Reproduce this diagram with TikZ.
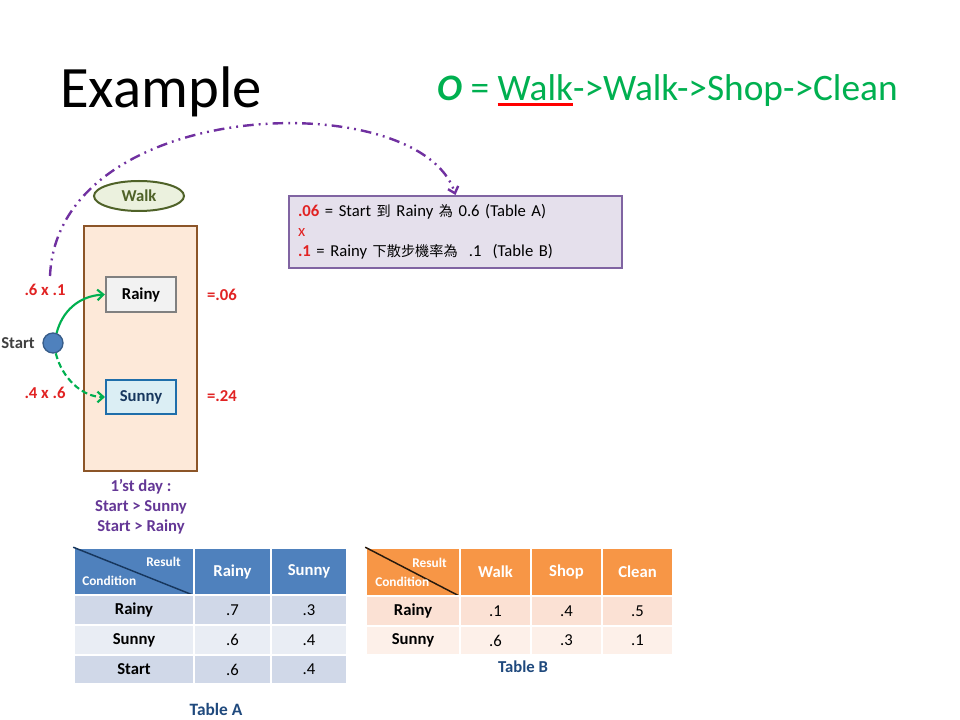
\documentclass[tikz,border=0pt]{standalone}
\usepackage{fontspec}
\setmainfont{Carlito}
\newfontfamily\cjk{Noto Sans CJK TC}[Scale=0.85]
\usetikzlibrary{arrows.meta,shapes.geometric}
\definecolor{tgreen}{RGB}{0,176,80}
\definecolor{tred}{RGB}{225,35,35}
\definecolor{brownB}{RGB}{140,85,40}
\definecolor{peach}{RGB}{253,233,217}
\definecolor{oliveB}{RGB}{79,98,40}
\definecolor{oliveF}{RGB}{235,241,222}
\definecolor{rainyF}{RGB}{242,242,242}
\definecolor{rainyB}{RGB}{128,128,128}
\definecolor{sunnyF}{RGB}{219,238,244}
\definecolor{sunnyB}{RGB}{31,110,170}
\definecolor{sunnyT}{RGB}{23,55,94}
\definecolor{startF}{RGB}{79,129,189}
\definecolor{startB}{RGB}{56,93,138}
\definecolor{pboxF}{RGB}{229,224,236}
\definecolor{pboxB}{RGB}{128,100,162}
\definecolor{parcC}{RGB}{112,48,160}
\definecolor{dayC}{RGB}{100,55,150}
\definecolor{headA}{RGB}{79,129,189}
\definecolor{rowA1}{RGB}{208,216,232}
\definecolor{rowA2}{RGB}{233,237,244}
\definecolor{headB}{RGB}{247,150,70}
\definecolor{rowB1}{RGB}{251,225,212}
\definecolor{rowB2}{RGB}{253,240,233}
\definecolor{tlabC}{RGB}{31,73,125}
\definecolor{grayT}{RGB}{64,64,64}
\newcommand\fsz[1]{\fontsize{#1pt}{1.2\dimexpr #1pt\relax}\selectfont}
\newcommand\redul[1]{\begingroup\setbox0\hbox{#1}\rlap{\color{red}\rule[-3.6pt]{\wd0}{2.3pt}}\box0\endgroup}
\begin{document}
\begin{tikzpicture}[x=0.75pt,y=-0.75pt,
  redlbl/.style={inner sep=0, text=tred, font=\bfseries\fsz{12.5}},
  garrow/.style={draw=tgreen, line width=1.6pt, -{Straight Barb[length=4.5pt,width=8pt]}},
  parc/.style={draw=parcC, line width=1.8pt, dash pattern=on 8pt off 3.8pt on 1.4pt off 3.8pt on 1.4pt off 3.8pt, -{Straight Barb[length=4.5pt,width=8pt]}},
  tcell/.style={draw=white, line width=1.2pt, inner sep=0},
  hcellA/.style={tcell, fill=headA, text=white, font=\bfseries\fsz{12.5}},
  hcellB/.style={tcell, fill=headB, text=white, font=\bfseries\fsz{12.5}},
  lblcell/.style={tcell, font=\bfseries\fsz{12.5}},
  valcell/.style={tcell, font=\fsz{12.5}},
  smallhead/.style={inner sep=0, text=white, font=\bfseries\fsz{10}},
  tlabel/.style={inner sep=0, text=tlabC, font=\bfseries\fsz{12.5}}
]
\useasboundingbox (0,0) rectangle (960,720);
\fill[white] (0,0) rectangle (960,720);

% titles
\node[anchor=base west, inner sep=0, font=\fsz{44}] (title) at (60,108) {Example};
\node[anchor=base west, inner sep=0, font=\fsz{28}, text=tgreen] (obs) at (437,101)
  {\textbf{\textit{O}} = \redul{Walk}->Walk->Shop->Clean};

% first day column
\node[draw=brownB, fill=peach, line width=1.8pt, minimum width=84.75pt, minimum height=183.75pt] (day1) at (140.5,348.5) {};
\node[ellipse, draw=oliveB, fill=oliveF, line width=1.5pt, minimum width=67.5pt, minimum height=22.5pt, inner sep=0, text=oliveB, font=\bfseries\fsz{12.5}] (walk) at (139,196) {Walk};
\node[draw=rainyB, fill=rainyF, line width=1.5pt, minimum width=52.5pt, minimum height=26.25pt, inner sep=0, font=\bfseries\fsz{12.5}] (rainy) at (141,294.5) {Rainy};
\node[draw=sunnyB, fill=sunnyF, line width=1.5pt, minimum width=52.5pt, minimum height=25.5pt, inner sep=0, text=sunnyT, font=\bfseries\fsz{12.5}] (sunny) at (141,397) {Sunny};
\node[circle, draw=startB, fill=startF, line width=1pt, minimum size=15pt, inner sep=0] (start) at (53,343) {};
\node[inner sep=0, text=grayT, font=\bfseries\fsz{12.5}] (startlbl) at (18,343) {Start};

\draw[garrow] (start.70) .. controls (62,312) and (78,296) .. (rainy.west);
\draw[garrow, dash pattern=on 4.5pt off 2.5pt] (start.-75) .. controls (62,378) and (82,397) .. (sunny.west);

\node[redlbl] (l1) at (45,290) {.6 x .1};
\node[redlbl] (l2) at (45,393) {.4 x .6};
\node[redlbl] (p1) at (222,295) {=.06};
\node[redlbl] (p2) at (222,396) {=.24};

\node[inner sep=0, align=center, text=dayC, font=\bfseries\fontsize{12.5pt}{15pt}\selectfont] (daytxt) at (141,507)
  {1'st day :\\Start > Sunny\\Start > Rainy};

% explanation box
\node[draw=pboxB, fill=pboxF, line width=1.5pt, minimum height=54pt, text width=236.25pt, align=left, inner xsep=6.75pt, inner ysep=0pt, font=\fontsize{12.5pt}{15pt}\selectfont] (pbox) at (455.5,232)
  {{\color{tred}\bfseries .06} = Start {\cjk 到} Rainy {\cjk 為} 0.6 (Table A)\\
   {\color{tred}x}\\
   {\color{tred}\bfseries .1} = Rainy {\cjk 下散步機率為} \ .1 \ (Table B)};

\coordinate (arcfree) at (50,276);
\draw[parc] (arcfree) .. controls (58,95) and (420,85) .. (pbox.north);

% Table A
\node[hcellA, minimum width=90pt, minimum height=35.25pt] (a00) at (134,571.5) {};
\draw[draw=sunnyT, line width=1.1pt] (a00.north west) -- (a00.south east);
\node[smallhead, anchor=east] (aRes) at (181,562) {Result};
\node[smallhead, anchor=west] (aCon) at (82,581) {Condition};
\node[hcellA, minimum width=57.75pt, minimum height=35.25pt] (a01) at (232.5,571.5) {Rainy};
\node[hcellA, minimum width=57pt, minimum height=35.25pt] (a02) at (309,571.5) {Sunny};

\node[lblcell, fill=rowA1, minimum width=90pt, minimum height=22.5pt] (a10) at (134,610) {Rainy};
\node[valcell, fill=rowA1, minimum width=57.75pt, minimum height=22.5pt] (a11) at (232.5,610) {.7};
\node[valcell, fill=rowA1, minimum width=57pt, minimum height=22.5pt] (a12) at (309,610) {.3};
\node[lblcell, fill=rowA2, minimum width=90pt, minimum height=22.5pt] (a20) at (134,640) {Sunny};
\node[valcell, fill=rowA2, minimum width=57.75pt, minimum height=22.5pt] (a21) at (232.5,640) {.6};
\node[valcell, fill=rowA2, minimum width=57pt, minimum height=22.5pt] (a22) at (309,640) {.4};
\node[lblcell, fill=rowA1, minimum width=90pt, minimum height=21.75pt] (a30) at (134,669.5) {Start};
\node[valcell, fill=rowA1, minimum width=57.75pt, minimum height=21.75pt] (a31) at (232.5,669.5) {.6};
\node[valcell, fill=rowA1, minimum width=57pt, minimum height=21.75pt] (a32) at (309,669.5) {.4};
\node[tlabel, font=\bfseries\fsz{13}] (tabA) at (216,709) {Table A};

% Table B
\node[hcellB, minimum width=70.5pt, minimum height=36pt] (b00) at (413,572) {};
\draw[draw=black!80!brown, line width=1.1pt] (b00.north west) -- (b00.south east);
\node[smallhead, anchor=east] (bRes) at (447,563) {Result};
\node[smallhead, anchor=west] (bCon) at (375,582) {Condition};
\node[hcellB, minimum width=53.25pt, minimum height=36pt] (b01) at (495.5,572) {Walk};
\node[hcellB, minimum width=53.25pt, minimum height=36pt] (b02) at (566.5,572) {Shop};
\node[hcellB, minimum width=53.25pt, minimum height=36pt] (b03) at (637.5,572) {Clean};

\node[lblcell, fill=rowB1, minimum width=70.5pt, minimum height=22.5pt] (b10) at (413,611) {Rainy};
\node[valcell, fill=rowB1, minimum width=53.25pt, minimum height=22.5pt] (b11) at (495.5,611) {.1};
\node[valcell, fill=rowB1, minimum width=53.25pt, minimum height=22.5pt] (b12) at (566.5,611) {.4};
\node[valcell, fill=rowB1, minimum width=53.25pt, minimum height=22.5pt] (b13) at (637.5,611) {.5};
\node[lblcell, fill=rowB2, minimum width=70.5pt, minimum height=21.75pt] (b20) at (413,640.5) {Sunny};
\node[valcell, fill=rowB2, minimum width=53.25pt, minimum height=21.75pt] (b21) at (495.5,640.5) {.6};
\node[valcell, fill=rowB2, minimum width=53.25pt, minimum height=21.75pt] (b22) at (566.5,640.5) {.3};
\node[valcell, fill=rowB2, minimum width=53.25pt, minimum height=21.75pt] (b23) at (637.5,640.5) {.1};
\node[tlabel] (tabB) at (523,667) {Table B};
\end{tikzpicture}
\end{document}
